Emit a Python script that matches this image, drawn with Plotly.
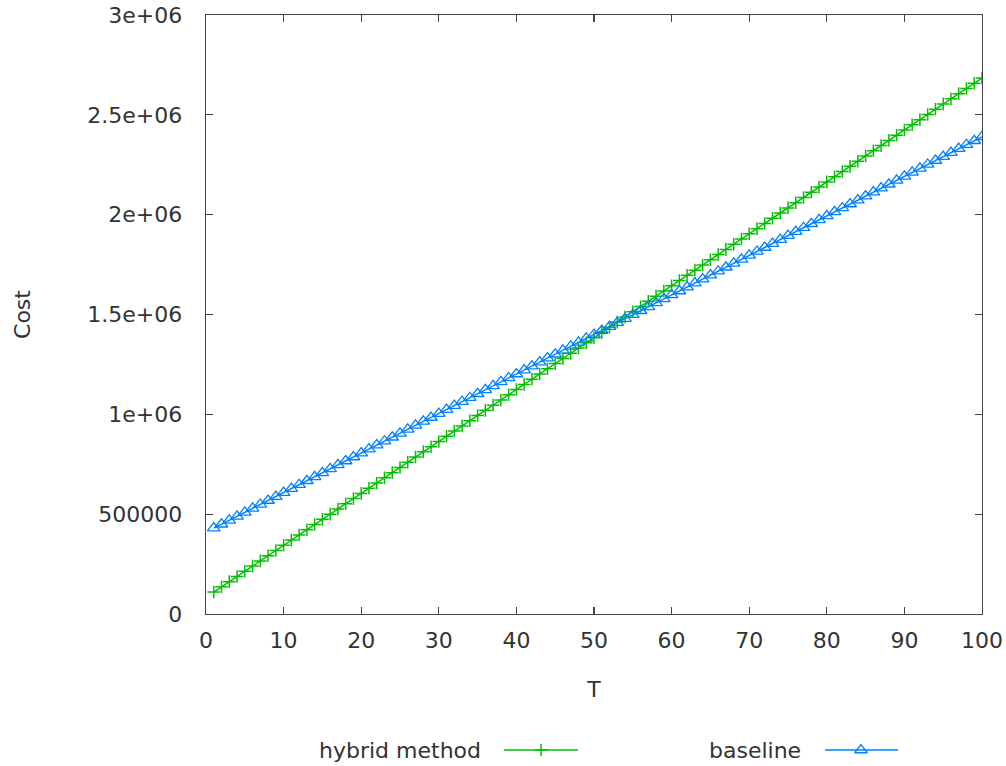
import plotly.graph_objects as go

T = list(range(1, 101))
hybrid = [110000, 136000, 162000, 188000, 214000, 240000, 266000, 292000, 318000, 344000,
          370000, 396000, 422000, 448000, 474000, 500000, 526000, 552000, 578000, 604000,
          630000, 656000, 682000, 708000, 734000, 760000, 786000, 812000, 838000, 864000,
          890000, 916000, 942000, 968000, 994000, 1020000, 1046000, 1072000, 1098000, 1124000,
          1150000, 1176000, 1202000, 1228000, 1254000, 1280000, 1306000, 1332000, 1358000, 1384000,
          1410000, 1436000, 1462000, 1488000, 1514000, 1540000, 1566000, 1592000, 1618000, 1644000,
          1670000, 1696000, 1722000, 1748000, 1774000, 1800000, 1826000, 1852000, 1878000, 1904000,
          1930000, 1956000, 1982000, 2008000, 2034000, 2060000, 2086000, 2112000, 2138000, 2164000,
          2190000, 2216000, 2242000, 2268000, 2294000, 2320000, 2346000, 2372000, 2398000, 2424000,
          2450000, 2476000, 2502000, 2528000, 2554000, 2580000, 2606000, 2632000, 2658000, 2684000]
baseline = [429800, 449600, 469400, 489200, 509000, 528800, 548600, 568400, 588200, 608000,
            627800, 647600, 667400, 687200, 707000, 726800, 746600, 766400, 786200, 806000,
            825800, 845600, 865400, 885200, 905000, 924800, 944600, 964400, 984200, 1004000,
            1023800, 1043600, 1063400, 1083200, 1103000, 1122800, 1142600, 1162400, 1182200, 1202000,
            1221800, 1241600, 1261400, 1281200, 1301000, 1320800, 1340600, 1360400, 1380200, 1400000,
            1419800, 1439600, 1459400, 1479200, 1499000, 1518800, 1538600, 1558400, 1578200, 1598000,
            1617800, 1637600, 1657400, 1677200, 1697000, 1716800, 1736600, 1756400, 1776200, 1796000,
            1815800, 1835600, 1855400, 1875200, 1895000, 1914800, 1934600, 1954400, 1974200, 1994000,
            2013800, 2033600, 2053400, 2073200, 2093000, 2112800, 2132600, 2152400, 2172200, 2192000,
            2211800, 2231600, 2251400, 2271200, 2291000, 2310800, 2330600, 2350400, 2370200, 2390000]
x_ticks = [0, 10, 20, 30, 40, 50, 60, 70, 80, 90, 100]
y_ticks = [0, 500000, 1000000, 1500000, 2000000, 2500000, 3000000]
y_tick_labels = ["0", "500000", "1e+06", "1.5e+06", "2e+06", "2.5e+06", "3e+06"]
series_names = ["hybrid method", "baseline"]

GREEN = "#00c000"
BLUE = "#0080ff"
FONT = "DejaVu Sans"
TXT = "#333333"
FS = 22

# body margin removed via post_script, so figure pixels == page pixels
W, H = 1006, 766
LEFT, RIGHT, TOP, BOTTOM = 206, 982, 15, 614
ML, MT = LEFT, TOP
MR = W - RIGHT
MB = 0
ph = H - MT - MB
def py(p):
    return (H - MB - p) / ph

fig = go.Figure()
fig.add_trace(go.Scatter(x=T, y=hybrid, mode="lines+markers", name=series_names[0],
                         line=dict(color=GREEN, width=1.5),
                         marker=dict(symbol="cross-thin", size=9, line=dict(color=GREEN, width=1.5)),
                         showlegend=False))
fig.add_trace(go.Scatter(x=T, y=baseline, mode="lines+markers", name=series_names[1],
                         line=dict(color=BLUE, width=1.5),
                         marker=dict(symbol="triangle-up-open", size=11, color=BLUE, line=dict(color=BLUE, width=1.3)),
                         showlegend=False))

# custom legend samples (gnuplot style: text then sample), x in page pixels
fig.add_trace(go.Scatter(x=[504, 578], y=[0, 0], xaxis="x2", yaxis="y2", mode="lines",
                         line=dict(color=GREEN, width=1.5), showlegend=False, hoverinfo="skip"))
fig.add_trace(go.Scatter(x=[541], y=[0], xaxis="x2", yaxis="y2", mode="markers",
                         marker=dict(symbol="cross-thin", size=9, line=dict(color=GREEN, width=1.5)),
                         showlegend=False, hoverinfo="skip"))
fig.add_trace(go.Scatter(x=[825, 898], y=[0, 0], xaxis="x2", yaxis="y2", mode="lines",
                         line=dict(color=BLUE, width=1.5), showlegend=False, hoverinfo="skip"))
fig.add_trace(go.Scatter(x=[861], y=[0], xaxis="x2", yaxis="y2", mode="markers",
                         marker=dict(symbol="triangle-up-open", size=11, color=BLUE, line=dict(color=BLUE, width=1.3)),
                         showlegend=False, hoverinfo="skip"))

axis_common = dict(showgrid=False, zeroline=False, showline=True, linecolor="#444444", linewidth=1.3,
                   ticks="inside", ticklen=7, tickwidth=1.3, tickcolor="#444444", mirror="allticks",
                   ticklabeloverflow="allow",
                   tickfont=dict(family=FONT, size=FS, color=TXT))

fig.update_layout(
    width=W, height=H,
    margin=dict(l=ML, r=MR, t=MT, b=MB, autoexpand=False),
    paper_bgcolor="white", plot_bgcolor="white",
    xaxis=dict(range=[0, 100], tickvals=x_ticks, ticktext=[str(v) for v in x_ticks], automargin=False,
               title=dict(text="T", font=dict(family=FONT, size=FS, color=TXT), standoff=30),
               ticklabelstandoff=6, **axis_common),
    yaxis=dict(range=[0, 3000000], tickvals=y_ticks, ticktext=y_tick_labels, domain=[py(BOTTOM), 1],
               automargin=False,
               title=dict(text="Cost", font=dict(family=FONT, size=FS, color=TXT), standoff=50),
               ticklabelstandoff=18, **axis_common),
    xaxis2=dict(domain=[0, 1], range=[LEFT, RIGHT], visible=False, anchor="y2"),
    yaxis2=dict(domain=[py(756), py(744)], range=[-1, 1], visible=False, anchor="x2"),
    font=dict(family=FONT, size=FS, color=TXT),
    annotations=[
        dict(text=series_names[0], xref="x2", yref="y2", x=483, y=0, xanchor="right", yanchor="middle",
             showarrow=False, font=dict(family=FONT, size=FS, color=TXT)),
        dict(text=series_names[1], xref="x2", yref="y2", x=803, y=0, xanchor="right", yanchor="middle",
             showarrow=False, font=dict(family=FONT, size=FS, color=TXT)),
    ],
)

fig.write_html("out.html", config={"displayModeBar": False, "staticPlot": True},
               post_script="document.body.style.margin='0';document.body.style.overflow='hidden';")
